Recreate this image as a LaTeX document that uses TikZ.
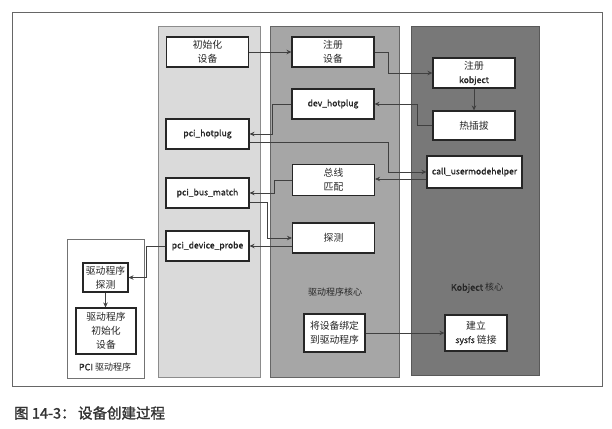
\documentclass[tikz,border=0pt]{standalone}
\usepackage{fontspec}
\setmainfont{Noto Sans CJK SC}
\newfontfamily\latb[FakeBold=1]{Noto Sans CJK SC}
\newfontfamily\capfont[FakeBold=1.5]{Noto Sans CJK SC}
\newcommand\latx[1]{{\latb\fontsize{8.6}{14}\selectfont #1}}
\usetikzlibrary{arrows.meta}
\definecolor{colA}{RGB}{218,218,218}
\definecolor{colB}{RGB}{166,166,166}
\definecolor{colC}{RGB}{120,120,120}
\begin{document}
\begin{tikzpicture}[x=1pt,y=-1pt,
  box/.style={draw=black!85, line width=1.1pt, fill=white, minimum width=82pt, minimum height=30pt,
    inner sep=1pt, align=center, font=\fontsize{9.8}{14}\selectfont, text=black!85},
  arr/.style={draw=black!75, line width=0.8pt, -{Stealth[length=5pt,width=4.5pt]}},
  lbl/.style={font=\fontsize{9}{11}\selectfont, text=black!85, inner sep=0pt}
]
\useasboundingbox (0,0) rectangle (612,428);
% outer frame
\draw[black!60, line width=1pt] (12.5,13) rectangle (602.5,386.5);
% columns
\draw[draw=black!45, fill=colA, line width=0.8pt] (158,26) rectangle (260,377);
\draw[draw=black!60, fill=colB, line width=0.8pt] (270,26) rectangle (399,377);
\draw[draw=black!65, fill=colC, line width=0.8pt] (411,26) rectangle (539,375);
\draw[draw=black!55, fill=white, line width=0.8pt] (67,239) rectangle (144,378);

% nodes
\node[box] (init) at (207.5,52) {初始化\\设备};
\node[box] (reg) at (333,52) {注册\\设备};
\node[box] (regk) at (474,73) {注册\\\latx{kobject}};
\node[box] (devhp) at (333,104) {\latx{dev\_hotplug}};
\node[box, minimum height=29pt] (hot) at (474,125.5) {热插拔};
\node[box, minimum width=83pt] (pcihp) at (207.5,134) {\latx{pci\_hotplug}};
\node[box, minimum width=95pt, minimum height=32pt] (cum) at (474.5,172) {\latx{call\_usermodehelper}};
\node[box, minimum height=31pt] (busm) at (333.5,180) {总线\\匹配};
\node[box, minimum width=83pt] (pbm) at (207.5,193) {\latx{pci\_bus\_match}};
\node[box] (probe) at (333.5,238) {探测};
\node[box, minimum width=83pt] (pdp) at (207.5,246) {\latx{pci\_device\_probe}};
\node[box, minimum width=45pt, minimum height=29pt] (dprobe) at (105.5,277.5) {驱动程序\\探测};
\node[box, minimum width=60pt, minimum height=46pt] (dinit) at (106,331) {驱动程序\\初始化\\设备};
\node[box, minimum width=61pt, minimum height=38pt] (bind) at (334.5,333) {将设备绑定\\到驱动程序};
\node[box, minimum width=62pt, minimum height=36pt] (sysfs) at (476,333) {建立\\\latx{sysfs} 链接};

% labels
\node[lbl] (lpci) at (105,367) {{\latb PCI} 驱动程序};
\node[lbl] (ldrv) at (335,292) {驱动程序核心};
\node[lbl] (lkob) at (477,288) {{\latb Kobject} 核心};

% connectors
\draw[arr] (init) -- (reg);
\draw[arr] (reg.east) -- ++(14,0) |- (regk.west);
\draw[arr] (regk) -- (hot);
\draw[arr] (hot.west) -- ++(-15,0) |- (devhp.east);
\draw[arr] (devhp.west) -- ++(-19,0) |- (pcihp.east);
\draw[arr] ([yshift=-8pt]pcihp.east) -- ++(139,0) |- (cum.west);
\draw[arr] ([yshift=-7pt]cum.west) -- ([yshift=-7pt]cum.west -| busm.east);
\draw[arr] (busm.west) -- ++(-18,0) |- (pbm.east);
\draw[arr] ([yshift=-9pt]pbm.east) -- ++(18,0) |- (probe.west);
\draw[arr] ([yshift=-8pt]probe.west) -- ([yshift=-8pt]probe.west -| pdp.east);
\draw[arr] (pdp.west) -- ++(-19,0) |- (dprobe.east);
\draw[arr] (dprobe) -- (dprobe |- dinit.north);
\draw[arr] (bind) -- (sysfs);

% caption
\node[anchor=west, inner sep=0pt, text=black!80, font=\capfont\fontsize{14.5}{16}\selectfont] (cap) at (14,413) {图 14-3：\,设备创建过程};
\end{tikzpicture}
\end{document}
